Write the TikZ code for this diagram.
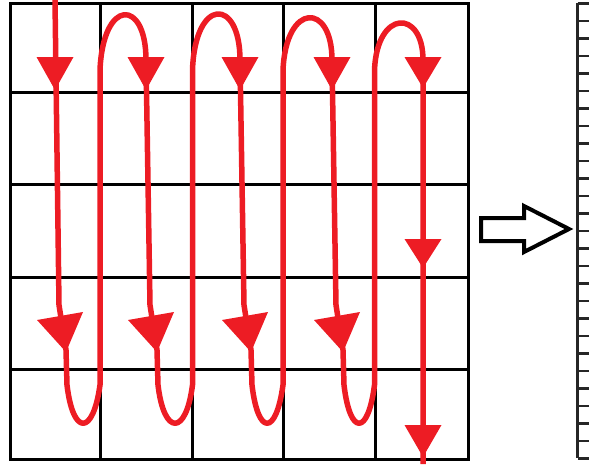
\documentclass[tikz,border=0pt]{standalone}
\definecolor{paintred}{RGB}{237,28,36}
\tikzset{
  gridline/.style={line width=3pt, black},
  serp/.style={line width=5.5pt, paintred, line join=round, line cap=butt},
  tick/.style={line width=2.5pt, black!85},
  blockarrow/.style={line width=4pt, black, fill=white, line join=miter},
}
% filled arrowhead: tip, left base corner, right base corner
\newcommand\headtri[6]{\fill[paintred] (#1,#2) -- (#3,#4) -- (#5,#6) -- cycle;}
\begin{document}
\begin{tikzpicture}[x=1pt,y=-1pt]
\useasboundingbox (0,0) rectangle (589,464);

% 5x5 grid
\foreach \gx in {100.5,192.5,283.5,375} {\draw[gridline] (\gx,3) -- (\gx,459);}
\foreach \gy in {92,184.5,277,369} {\draw[gridline] (10,\gy) -- (468,\gy);}
\draw[gridline] (10,3) rectangle (468,459);

% serpentine scan path
\draw[serp] (55,0) -- (59,305) -- (66,350) -- (67,385)
  .. controls (73,436) and (93,436) .. (100,385) -- (100,70)
  .. controls (103,-2) and (146,-2) .. (146,60) -- (150,305) -- (157,350) -- (158,385)
  .. controls (164,436) and (186,436) .. (192.5,385) -- (192.5,70)
  .. controls (195,-3) and (240,-3) .. (240,60) -- (244,305) -- (251,350) -- (252,385)
  .. controls (258,436) and (276,436) .. (283,385) -- (283,70)
  .. controls (286,2) and (332,2) .. (332,60) -- (336,305) -- (343,350) -- (344,385)
  .. controls (350,436) and (368,436) .. (374.5,385) -- (374.5,70)
  .. controls (377,9) and (423,9) .. (423,60) -- (423,464);

% arrowheads in the top row
\foreach \tx in {55,146,240,332} {\headtri{\tx}{90}{\tx-18.5}{57}{\tx+18.5}{57}}
\headtri{423}{88}{404.5}{57}{441.5}{57}
% arrowheads near the bottom of columns 1-4
\foreach \tx in {66,157,251,343} {\headtri{\tx}{352}{\tx-29}{320}{\tx+17}{312}}
% arrowheads of the last column
\headtri{423}{268}{404.5}{239}{441.5}{239}
\headtri{423}{457}{404.5}{425}{441.5}{425}

% block arrow
\draw[blockarrow] (481,218) -- (524,218) -- (524,206) -- (569,229)
  -- (524,252) -- (524,241) -- (481,241) -- cycle;

% flattened column
\draw[tick] (577.5,3.3) -- (577.5,458.3);
\foreach \k in {0,...,26} {\draw[tick] (577.5,3.3+17.5*\k) -- (590,3.3+17.5*\k);}
\end{tikzpicture}
\end{document}
